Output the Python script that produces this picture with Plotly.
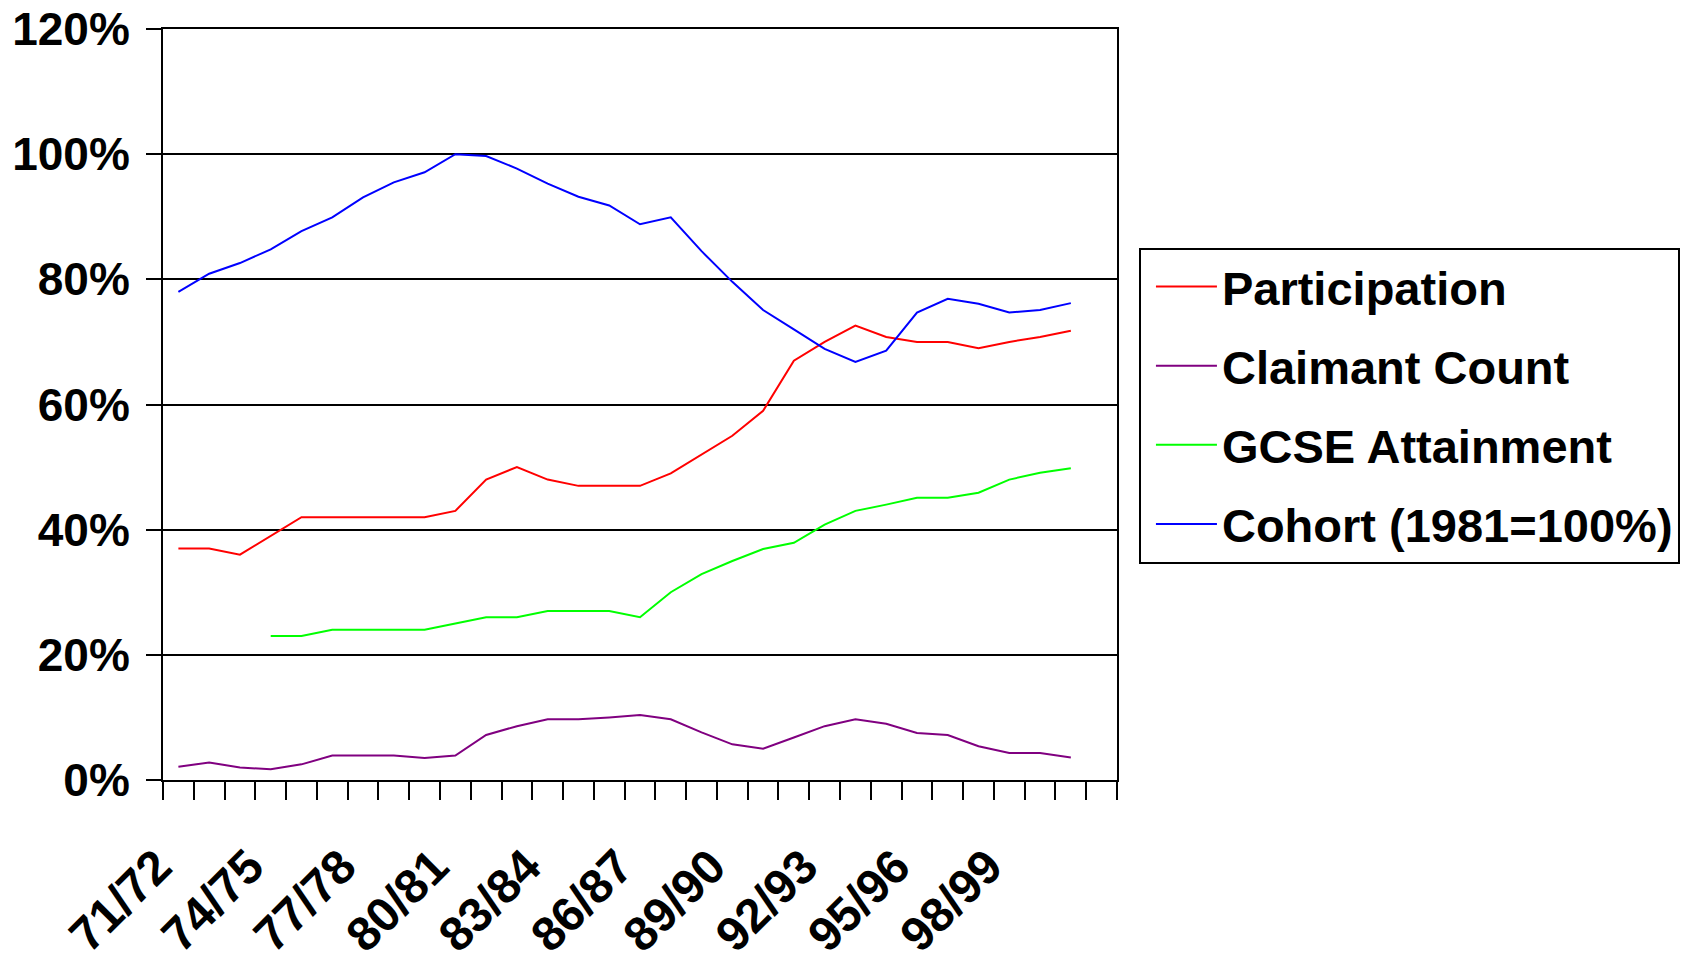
import plotly.graph_objects as go

# Academic years on the category axis (31 slots, the last one left empty)
years = ["71/72", "72/73", "73/74", "74/75", "75/76", "76/77", "77/78", "78/79",
         "79/80", "80/81", "81/82", "82/83", "83/84", "84/85", "85/86", "86/87",
         "87/88", "88/89", "89/90", "90/91", "91/92", "92/93", "93/94", "94/95",
         "95/96", "96/97", "97/98", "98/99", "99/00", "00/01", "01/02"]
label_step = 3
label_count = 28

# Series values in percent, one per academic year from 71/72 to 00/01
participation = [37, 37, 36, 39, 42, 42, 42, 42, 42, 43, 48, 50, 48, 47, 47, 47,
                 49, 52, 55, 59, 67, 70, 72.6, 70.8, 70, 70, 69, 70, 70.8, 71.8]
claimant = [2.1, 2.8, 2.0, 1.7, 2.5, 3.9, 3.9, 3.9, 3.5, 3.9, 7.2, 8.6, 9.7, 9.7,
            10.0, 10.4, 9.7, 7.6, 5.7, 5.0, 6.8, 8.6, 9.7, 9.0, 7.5, 7.2, 5.4,
            4.3, 4.3, 3.6]
gcse = [None, None, None, 23, 23, 24, 24, 24, 24, 25, 26, 26, 27, 27, 27, 26,
        30, 32.9, 35, 36.9, 37.9, 40.8, 43, 44, 45.1, 45.1, 45.9, 48, 49.1, 49.8]
cohort = [78, 80.9, 82.6, 84.8, 87.7, 89.9, 93.1, 95.5, 97.1, 100, 99.7, 97.7,
          95.3, 93.2, 91.8, 88.8, 89.9, 84.5, 79.6, 75.1, 72.0, 68.9, 66.8, 68.6,
          74.7, 76.9, 76.1, 74.7, 75.1, 76.2]

series = [
    ("Participation", participation, "#FF0000"),
    ("Claimant Count", claimant, "#800080"),
    ("GCSE Attainment", gcse, "#00FF00"),
    ("Cohort (1981=100%)", cohort, "#0000FF"),
]

font_family = "Liberation Sans, Arial, sans-serif"

fig = go.Figure()
for name, values, color in series:
    fig.add_trace(go.Scatter(
        x=list(range(len(values))),
        y=values,
        name=name,
        legendgroup=name,
        mode="lines",
        line=dict(color=color, width=2),
        connectgaps=False,
    ))

tick_idx = list(range(0, label_count, label_step))

fig.update_layout(
    width=1687,
    height=965,
    margin=dict(l=163, r=570, t=29, b=185, autoexpand=False),
    paper_bgcolor="white",
    plot_bgcolor="white",
    font=dict(family=font_family, color="black"),
    showlegend=True,
    legend=dict(
        x=1.023, y=0.709, xanchor="left", yanchor="top",
        bgcolor="white", bordercolor="black", borderwidth=2,
        font=dict(family=font_family, size=47, color="black", weight="bold"),
        tracegroupgap=15,
        traceorder="grouped",
        indentation=10,
        itemwidth=61,
    ),
    xaxis=dict(
        range=[-0.5, len(years) - 0.5],
        tickmode="array",
        tickvals=tick_idx,
        ticktext=[years[i] for i in tick_idx],
        tickangle=-45,
        ticks="",
        ticklabelstandoff=37,
        ticklabelshift=-21,
        tickfont=dict(family=font_family, size=48, color="black", weight="bold"),
        showgrid=False,
        zeroline=False,
        showline=True,
        linecolor="black",
        linewidth=2,
        mirror=True,
        automargin=False,
        minor=dict(ticks="outside", ticklen=18, tickwidth=2, tickcolor="black",
                   tick0=-0.5, dtick=1, showgrid=False),
    ),
    yaxis=dict(
        range=[0, 120],
        tickmode="linear",
        tick0=0,
        dtick=20,
        ticksuffix="%",
        ticks="outside",
        ticklen=15,
        tickwidth=2,
        tickcolor="black",
        ticklabelstandoff=7,
        tickfont=dict(family=font_family, size=46, color="black", weight="bold"),
        showgrid=True,
        gridcolor="black",
        gridwidth=2,
        zeroline=False,
        showline=True,
        linecolor="black",
        linewidth=2,
        mirror=True,
        automargin=False,
    ),
)

fig.write_html("out.html")
